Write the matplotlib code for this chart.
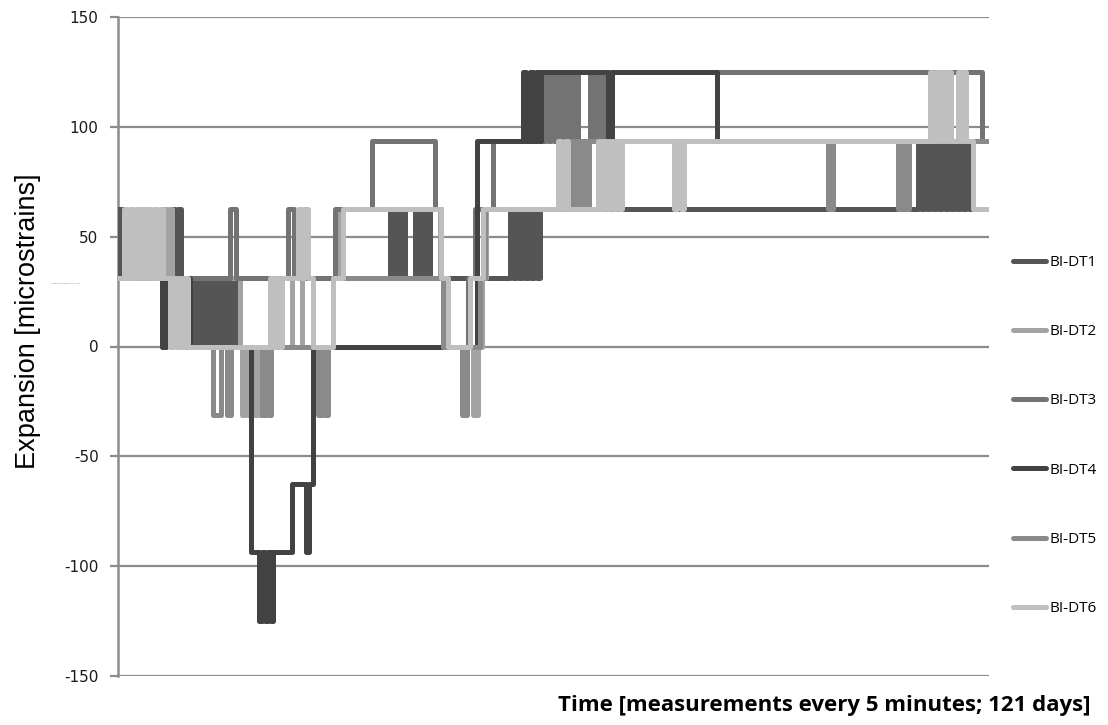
import numpy as np
import matplotlib
matplotlib.use("Agg")
import matplotlib.pyplot as plt
from matplotlib.lines import Line2D

plt.rcParams["axes.unicode_minus"] = False

# strain gauge resolution: readings come in steps of 31.25 microstrains
STEP = 31.25
N_SAMPLES = 34848  # 121 days, one reading every 5 minutes

labels = ["BI-DT1", "BI-DT2", "BI-DT3", "BI-DT4", "BI-DT5", "BI-DT6"]
colors = ["#555555", "#a3a3a3", "#737373", "#424242", "#8a8a8a", "#bfbfbf"]

# sample index where the reading changes, and the new reading (in steps)
dt1_t = [0, 80, 160, 280, 2160, 2280, 2400, 2520, 2880, 3000, 3120, 3320, 3440,
         3640, 3760, 3880, 4000, 4120, 4240, 4360, 4480, 4640, 4760,
         6080, 6200, 6320, 6440, 6560, 7800, 8600, 9000,
         10880, 11000, 11120, 11240, 11360, 11480, 11880, 12000, 12120, 12240,
         12360, 12480, 12920, 15680, 15800, 15920, 16040, 16160, 16280, 16400,
         16520, 16640, 16760, 16880, 32000, 32120, 32240, 32360, 32480, 32600,
         32720, 32840, 32960, 33080, 33200, 33320, 33440, 33560, 33680, 33800,
         33920, 34040]
dt1_v = [2, 1, 2, 1, 2, 1, 2, 1, 0, 1, 0, 1, 0,
         1, 0, 1, 0, 1, 0, 1, 0, 1, 0,
         1, 0, 1, 0, 1, 0, 1, 2,
         1, 2, 1, 2, 1, 2, 1, 2, 1, 2,
         1, 2, 1, 2, 1, 2, 1, 2, 1, 2,
         1, 2, 1, 2, 3, 2, 3, 2, 3, 2,
         3, 2, 3, 2, 3, 2, 3, 2, 3, 2,
         3, 2]

dt2_t = [0, 1800, 1920, 2040, 2160, 4880, 4960, 5080, 5200, 5320,
         5440, 5560, 5680, 5800, 6960, 7360, 8600, 8800, 12880, 13200, 14200,
         14400, 14560, 14720, 17600, 17720, 17840, 17960, 19280]
dt2_v = [1, 2, 1, 2, 1, 0, -1, 0, -1, 0,
         -1, 0, -1, 0, 1, 0, 1, 2, 1, 0, -1,
         0, 1, 2, 3, 2, 3, 2, 3]

dt3_t = [0, 4480, 4720, 6800, 7040, 8680, 10160, 12680, 12920, 13120, 14000,
         14280, 15000, 17080, 17200, 17320, 17440, 17560, 17680, 17800, 17920,
         18040, 18160, 18280, 18400, 18880, 19000, 19120, 19240, 19360, 19520,
         19680, 34560]
dt3_v = [1, 2, 1, 2, 1, 2, 3, 2, 1, 0, 1,
         2, 3, 4, 3, 4, 3, 4, 3, 4, 3,
         4, 3, 4, 3, 4, 3, 4, 3, 4, 3,
         4, 3]

dt4_t = [0, 1760, 1920, 2880, 5320, 5640, 5760, 5880, 6000, 6120, 6200, 6960,
         7520, 7640, 7800, 14360, 16200, 16320, 16480, 16600, 16720, 16840,
         16920, 19600, 19760, 23960]
dt4_v = [1, 0, 1, 0, -3, -4, -3, -4, -3, -4, -3, -2,
         -3, -2, 0, 3, 4, 3, 4, 3, 4, 3,
         4, 3, 4, 3]

dt5_t = [0, 2680, 3800, 4120, 4360, 4520, 5760, 5880, 6000, 6120, 8000, 8120,
         8240, 8400, 8600, 13000, 13760, 13960, 14480, 14680, 18080, 18200,
         18320, 18440, 18560, 18720, 18840, 28400, 28600, 31200, 31360, 31480,
         31640]
dt5_v = [1, 0, -1, 0, -1, 0, -1, 0, -1, 0, -1, 0,
         -1, 0, 1, 0, -1, 0, 1, 2, 3, 2,
         3, 2, 3, 2, 3, 2, 3, 2, 3, 2,
         3]

dt6_t = [0, 240, 360, 480, 600, 720, 840, 960, 1080, 1200, 1320, 1440, 1560,
         1680, 1800, 2080, 2200, 2320, 2440, 2560, 2680, 2800, 6080, 6200, 6320,
         6440, 6560, 7200, 7320, 7440, 7600, 7800, 8600, 9000, 12920, 13200,
         14080, 14600, 17600, 17720, 17880, 18000, 19200, 19320, 19440, 19560,
         19680, 19800, 19920, 20040, 20160, 22240, 22360, 22520, 22640, 32480,
         32600, 32720, 32840, 32960, 33080, 33200, 33320, 33600, 33720, 33800,
         33920, 34200]
dt6_v = [1, 2, 1, 2, 1, 2, 1, 2, 1, 2, 1, 2, 1,
         2, 1, 0, 1, 0, 1, 0, 1, 0, 1, 0, 1,
         0, 1, 2, 1, 2, 1, 0, 1, 2, 1, 0,
         1, 2, 3, 2, 3, 2, 3, 2, 3, 2,
         3, 2, 3, 2, 3, 2, 3, 2, 3, 4,
         3, 4, 3, 4, 3, 4, 3, 4, 3, 4,
         3, 2]

series = [(dt1_t, dt1_v), (dt2_t, dt2_v), (dt3_t, dt3_v),
          (dt4_t, dt4_v), (dt5_t, dt5_v), (dt6_t, dt6_v)]

grid_color = "#8c8c8c"
lw = 3.6

fig = plt.figure(figsize=(11.08, 7.25), dpi=100)
ax = fig.add_axes([118 / 1108, 49 / 725, 871 / 1108, 659 / 725])

for (t, v), c, name in zip(series, colors, labels):
    x = np.append(t, N_SAMPLES)
    y = np.append(v, v[-1]) * STEP
    ax.plot(x, y, drawstyle="steps-post", color=c, lw=lw, label=name,
            solid_capstyle="round", solid_joinstyle="round", zorder=3)

ax.set_xlim(0, N_SAMPLES)
ax.set_ylim(-150, 150)
ax.set_yticks(np.arange(-150, 151, 50))
ax.set_xticks([])
ax.grid(axis="y", color=grid_color, lw=1.6, zorder=1)
for s in ["top", "right", "bottom"]:
    ax.spines[s].set_visible(False)
ax.spines["left"].set_color(grid_color)
ax.spines["left"].set_linewidth(1.8)
ax.tick_params(axis="y", length=6, width=1.6, color=grid_color,
               labelsize=11, pad=8, labelcolor="#1a1a1a")

ax.set_ylabel("Expansion [microstrains]", fontsize=19.5,
              family=["Liberation Sans Narrow", "Liberation Sans"])
ax.yaxis.set_label_coords(-0.088, 0.539)

fig.text(1090 / 1108, 1 - 706 / 725,
         "Time [measurements every 5 minutes; 121 days]",
         ha="right", va="center", fontsize=16, fontweight="bold",
         family="Open Sans")

# faint leftover label next to the axis
fig.text(66 / 1108, 1 - 283 / 725, "Expansion [microstrains]",
         fontsize=1.6, color="#777777", ha="center", va="center")

handles = [Line2D([], [], color=c, lw=lw, solid_capstyle="round") for c in colors]
fig.legend(handles, labels, loc="upper left",
           bbox_to_anchor=(1013 / 1108, 1 - 255 / 725), frameon=False,
           prop={"family": "Open Sans", "size": 11},
           handlelength=2.15, handletextpad=0.26, labelspacing=3.55,
           borderaxespad=0, borderpad=0)

fig.savefig("out.png", dpi=100)
